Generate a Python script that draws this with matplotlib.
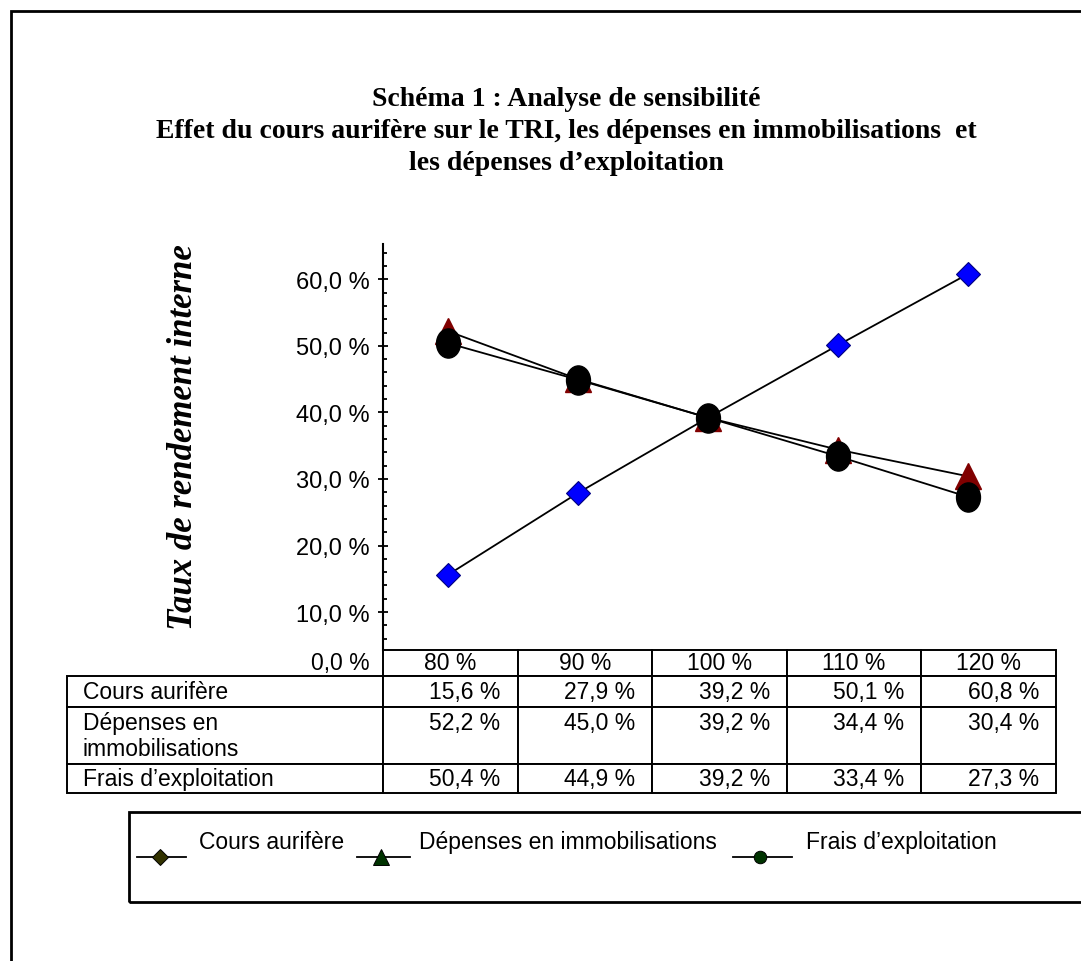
import matplotlib
matplotlib.use("Agg")
from matplotlib import pyplot as plt
from matplotlib.lines import Line2D
from matplotlib.patches import Rectangle
from matplotlib.markers import MarkerStyle
from matplotlib.ticker import MultipleLocator
from matplotlib.transforms import Affine2D

W, H = 1081, 962
DPI = 100

categories = ["80 %", "90 %", "100 %", "110 %", "120 %"]
series_names = ["Cours aurifère", "Dépenses en immobilisations", "Frais d’exploitation"]
row_labels = ["Cours aurifère", "Dépenses en\nimmobilisations", "Frais d’exploitation"]
cours = [15.6, 27.9, 39.2, 50.1, 60.8]
depenses = [52.2, 45.0, 39.2, 34.4, 30.4]
frais = [50.4, 44.9, 39.2, 33.4, 27.3]
ytick_values = [10, 20, 30, 40, 50, 60]
ytick_labels = ["10,0 %", "20,0 %", "30,0 %", "40,0 %", "50,0 %", "60,0 %"]
title_lines = [
    "Schéma 1 : Analyse de sensibilité",
    "Effet du cours aurifère sur le TRI, les dépenses en immobilisations  et",
    "les dépenses d’exploitation",
]

SANS = ["Liberation Sans", "DejaVu Sans"]
SERIF = ["Liberation Serif", "DejaVu Serif"]

# plot area in pixels (left, right, top, bottom)
AX_L, AX_R, AX_T, AX_B = 383, 1033, 245, 651
TAB_L, TAB_R, TAB_B = 67, 1056, 794


def fx(x):
    return x / W


def fy(y):
    return 1 - y / H


def pct(v):
    return f"{v:.1f} %".replace(".", ",")


fig = plt.figure(figsize=(W / DPI, H / DPI), dpi=DPI)
fig.patch.set_facecolor("white")

# outer frame (runs off right and bottom edges)
fig.add_artist(Rectangle((fx(11), fy(1000)), fx(1200), fy(12) - fy(1000),
                         transform=fig.transFigure, fill=False, lw=2.0,
                         edgecolor="black", clip_on=False))

# title
for txt, yy in zip(title_lines, [100, 132, 163]):
    fig.text(fx(566), fy(yy), txt, ha="center", va="center", fontsize=20,
             fontweight="bold", family=SERIF)

fig.text(fx(183), fy(437), "Taux de rendement interne", rotation=90,
         ha="center", va="center", fontsize=25, fontweight="bold",
         fontstyle="italic", family=SERIF)

ax_w = AX_R - AX_L
ax_h = AX_B - AX_T
ax = fig.add_axes([fx(AX_L), fy(AX_B), ax_w / W, ax_h / H])
x = list(range(len(categories)))

ellipse = MarkerStyle("o", transform=Affine2D().scale(0.82, 1.0))
ax.plot(x, cours, color="black", lw=1.3, marker="D", ms=12.5,
        mfc="#0000FF", mec="#000080", mew=0.8, zorder=3)
ax.plot(x, depenses, color="black", lw=1.3, marker="^", ms=19,
        mfc="#800000", mec="#800000", zorder=4)
ax.plot(x, frais, color="black", lw=1.3, marker=ellipse, ms=21,
        mfc="black", mec="black", zorder=5)

ax.set_xlim(-0.5, len(categories) - 0.5)
ax.set_ylim(4.3, 65.3)
for side in ["top", "right", "bottom"]:
    ax.spines[side].set_visible(False)
ax.spines["left"].set_linewidth(1.5)
ax.set_xticks([])
ax.set_yticks(ytick_values, ytick_labels)
ax.yaxis.set_minor_locator(MultipleLocator(2))
ax.tick_params(axis="y", which="major", direction="inout", length=7,
               width=1.3, pad=6, labelsize=17)
ax.tick_params(axis="y", which="minor", direction="in", length=3, width=1.3)
for lab in ax.get_yticklabels():
    lab.set_fontfamily(SANS)

# data table under the plot
cell_text = [["0,0 %"] + categories]
for lbl, vals in zip(row_labels, [cours, depenses, frais]):
    suffix = "\n" if "\n" in lbl else ""
    cell_text.append([lbl] + [pct(v) + suffix for v in vals])

col_w = [AX_L - TAB_L] + [(TAB_R - AX_L) / 5] * 5
tab = ax.table(cellText=cell_text,
               colWidths=[w / (TAB_R - TAB_L) for w in col_w],
               bbox=[(TAB_L - AX_L) / ax_w, (AX_B - TAB_B) / ax_h,
                     (TAB_R - TAB_L) / ax_w, (TAB_B - AX_B) / ax_h])
tab.auto_set_font_size(False)
tab.set_fontsize(16.5)
row_h = [26, 31, 57, 29]
for (r, c), cell in tab.get_celld().items():
    cell.set_height(row_h[r] / 143)
    cell.set_linewidth(1.4)
    cell.set_edgecolor("black")
    cell.get_text().set_fontfamily(SANS)
    if r == 0 and c == 0:
        cell.visible_edges = "open"
        cell.get_text().set_ha("right")
        cell.PAD = 13 / col_w[0]
    elif r == 0:
        cell.get_text().set_ha("center")
    elif c == 0:
        cell.get_text().set_ha("left")
        cell.PAD = 16 / col_w[0]
    else:
        cell.get_text().set_ha("right")
        cell.PAD = 17 / col_w[1]

# legend box
fig.add_artist(Rectangle((fx(129), fy(903)), fx(1200), fy(813) - fy(903),
                         transform=fig.transFigure, fill=False, lw=2.0,
                         edgecolor="black", clip_on=False))
leg_items = [
    (137, 186, 160, 199, "D", 8, "#333300"),
    (357, 410, 381, 419, "^", 11, "#003300"),
    (733, 792, 760, 806, "o", 9, "#003300"),
]
for (a, b, m, t, mk, ms, col), name in zip(leg_items, series_names):
    fig.add_artist(Line2D([fx(a), fx(b)], [fy(858), fy(858)], color="black",
                          lw=1.3, transform=fig.transFigure))
    fig.add_artist(Line2D([fx(m)], [fy(858)], marker=mk, ms=ms, mfc=col,
                          mec="black", mew=0.7, transform=fig.transFigure))
    fig.text(fx(t), fy(843), name, ha="left", va="center", fontsize=16.5,
             family=SANS)

fig.savefig("out.png", dpi=DPI)
